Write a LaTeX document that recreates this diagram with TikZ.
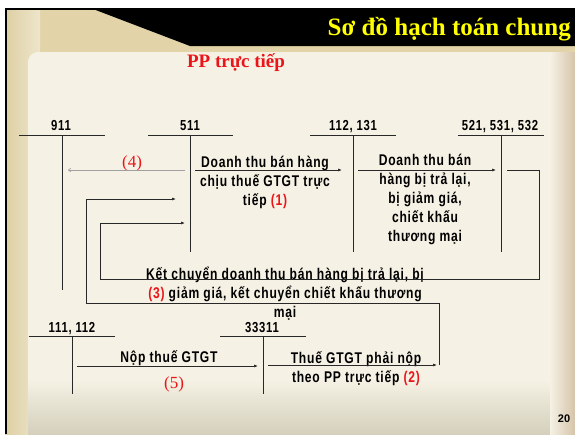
\documentclass[tikz,border=0pt]{standalone}
\usepackage{fontspec}
\setmainfont{Liberation Sans}
\newfontfamily\diagfont{Liberation Sans Bold}[FakeStretch=0.78,LetterSpace=5]
\newfontfamily\headfont{Liberation Serif}
\usetikzlibrary{arrows.meta}
\definecolor{parch}{RGB}{226,212,168}
\definecolor{panel}{RGB}{245,241,228}
\definecolor{panelbot}{RGB}{212,208,188}
\definecolor{edgebrown}{RGB}{214,196,170}
\definecolor{ink}{RGB}{40,40,40}
\definecolor{titleyellow}{RGB}{255,255,0}
\definecolor{redtxt}{RGB}{235,20,25}
\tikzset{
  acct/.style={ink, line width=0.9pt},
  flow/.style={ink, line width=0.7pt, -{Latex[length=4pt,width=3pt]}},
  faint/.style={gray!75, line width=0.6pt, -{To[length=3pt,width=4pt]}},
  acctlabel/.style={font=\diagfont\fontsize{14.5}{16}\selectfont, inner sep=0pt, anchor=base},
  note/.style={font=\diagfont\fontsize{15.5}{19}\selectfont, inner sep=0pt, align=center, anchor=base},
  stepnum/.style={font=\headfont\fontsize{17}{19}\selectfont, text=redtxt, inner sep=0pt, anchor=base}
}
\newcommand{\rn}[1]{\textcolor{redtxt}{#1}}
\begin{document}
\begin{tikzpicture}[x=1pt,y=-1pt]
\useasboundingbox (0,0) rectangle (575,434);
% --- slide background ---
\fill[white] (0,0) rectangle (575,434);
\fill[parch] (5,8) rectangle (575,434);
\shade[left color=parch!90!black!20!parch, right color=parch!60!white] (5,8) rectangle (40,434);
\fill[panel, rounded corners=10pt] (28,52) rectangle (575,434);
\shade[top color=panel, bottom color=panelbot] (28,380) rectangle (575,434);
\shade[left color=panel, right color=edgebrown] (550,52) rectangle (575,434);
\draw[black, line width=2pt] (6,434) -- (6,9) -- (575,9);
% --- title bar ---
\fill[black] (93,9) -- (575,9) -- (575,46) -- (190,46) -- cycle;
\node[font=\headfont\bfseries\fontsize{25}{28}\selectfont, text=titleyellow, anchor=base east, inner sep=0pt]
  (title) at (571,35) {Sơ đồ hạch toán chung};
\node[font=\headfont\bfseries\fontsize{19}{22}\selectfont, text=redtxt, anchor=base, inner sep=0pt]
  (sub) at (236,67.5) {PP trực tiếp};
% --- T accounts ---
\node[acctlabel] (l911) at (61,130) {911};
\node[acctlabel] (l511) at (190,130) {511};
\node[acctlabel] (l112) at (353,130) {112, 131};
\node[acctlabel] (l521) at (500,130) {521, 531, 532};
\node[acctlabel] (l111) at (72,332) {111, 112};
\node[acctlabel] (l333) at (262,332) {33311};
\coordinate (t911) at (62,135);   \coordinate (b911) at (62,290);
\coordinate (t511) at (190,135);  \coordinate (b511) at (190,252);
\coordinate (t112) at (353,135);  \coordinate (b112) at (353,252);
\coordinate (t521) at (501,135);  \coordinate (b521) at (501,252);
\coordinate (t111) at (72,336);   \coordinate (b111) at (72,394);
\coordinate (t333) at (263,336);  \coordinate (b333) at (263,394);
\draw[acct] (19,135) -- (105,135);  \draw[acct] (t911) -- (b911);
\draw[acct] (148,135) -- (233,135); \draw[acct] (t511) -- (b511);
\draw[acct] (310,135) -- (396,135); \draw[acct] (t112) -- (b112);
\draw[acct] (458,135) -- (544,135); \draw[acct] (t521) -- (b521);
\draw[acct] (29,336) -- (115,336);  \draw[acct] (t111) -- (b111);
\draw[acct] (220,336) -- (306,336); \draw[acct] (t333) -- (b333);
% --- entry texts (anchored at the baseline of the last line) ---
\node[note] (n1) at (265,205) {Doanh thu bán hàng\\chịu thuế GTGT trực\\tiếp \rn{(1)}};
\node[note] (nr) at (425,241) {Doanh thu bán\\hàng bị trả lại,\\bị giảm giá,\\chiết khấu\\thương mại};
\node[note] (n3) at (285,317) {Kết chuyển doanh thu bán hàng bị trả lại, bị\\\rn{(3)} giảm giá, kết chuyển chiết khấu thương\\mại};
\node[note] (n5) at (169,362) {Nộp thuế GTGT};
\node[note] (n2) at (356,382) {Thuế GTGT phải nộp\\theo PP trực tiếp \rn{(2)}};
\node[stepnum] (k4) at (132,167) {(4)};
\node[stepnum] (k5) at (174,388) {(5)};
% --- connectors ---
\coordinate (a4s) at (185,170); \coordinate (a4e) at (68,170);
\draw[faint] (a4s) -- (a4e);
\coordinate (a1s) at (195,170); \coordinate (a1e) at (342,170);
\draw[flow] (a1s) -- (a1e);
\coordinate (ars) at (358,170); \coordinate (are) at (496,170);
\draw[flow] (ars) -- (are);
\coordinate (a3s) at (507,170); \coordinate (a3a) at (539,170);
\coordinate (a3b) at (539,279); \coordinate (a3c) at (100,279);
\coordinate (a3d) at (100,223); \coordinate (a3e) at (185,223);
\draw[flow] (a3s) -- (a3a) -- (a3b) -- (a3c) -- (a3d) -- (a3e);
\coordinate (a2s) at (268,365); \coordinate (a2e) at (437,365);
\draw[flow] (a2s) -- (a2e);
\coordinate (a2a) at (439,365); \coordinate (a2b) at (439,303);
\coordinate (a2c) at (86,303);  \coordinate (a2d) at (86,199);
\coordinate (a2f) at (176,199);
\draw[flow] (a2a) -- (a2b) -- (a2c) -- (a2d) -- (a2f);
\coordinate (a5s) at (77,366); \coordinate (a5e) at (258,366);
\draw[flow] (a5s) -- (a5e);
% --- page number ---
\node[font=\bfseries\fontsize{11}{13}\selectfont, anchor=base, inner sep=0pt] (pg) at (564,422) {20};
\end{tikzpicture}
\end{document}
